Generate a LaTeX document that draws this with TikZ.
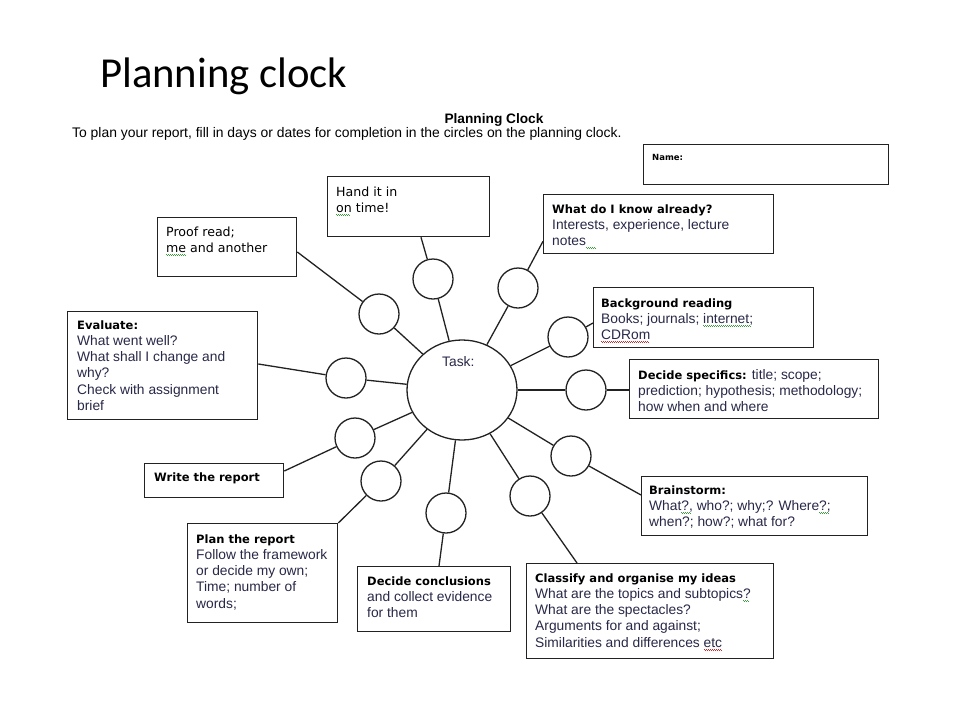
\documentclass[tikz,border=0pt]{standalone}
\usepackage{fontspec}
\setmainfont{Liberation Sans}
\newfontfamily\djv{DejaVu Sans}
\newfontfamily\carl{Carlito}
\usetikzlibrary{shapes.geometric,calc}
\definecolor{ink}{RGB}{34,34,34}
\definecolor{bodyc}{RGB}{40,40,72}
\definecolor{sqg}{RGB}{60,160,60}
\definecolor{sqr}{RGB}{210,40,40}
\newcommand\wv[2]{\setbox0\hbox{#2}\rlap{\hbox to \wd0{\color{#1}\leaders\hbox{\vrule width 1pt height -1.7pt depth 2.5pt\vrule width 1pt height -2.5pt depth 3.3pt}\hfil}}\box0\relax}
\newcommand\bodyf{\fontsize{13.8pt}{16.2pt}\selectfont}
\newcommand\hd[1]{{\djv\bfseries\fontsize{11.5pt}{16.2pt}\selectfont\color{black}#1}}
\newcommand\hr[1]{{\djv\fontsize{12.6pt}{15.5pt}\selectfont\color{black}#1}}
\newcommand\fs{\rule{0pt}{10.5pt}}
\begin{document}
\begin{tikzpicture}[x=1pt,y=-1pt,
  box/.style={draw=ink, line width=1.3pt, rectangle, inner sep=0pt, anchor=north west},
  txt/.style={anchor=north west, inner sep=0pt, align=left, font=\bodyf, text=bodyc},
  circ/.style={draw=ink, circle, minimum size=40pt, inner sep=0pt, line width=1.3pt},
  conn/.style={draw=ink, line width=1.3pt}]
\useasboundingbox[fill=white] (0,0) rectangle (960,720);

% titles
\node[anchor=base west, inner sep=0pt, font=\carl\fontsize{42.7pt}{48pt}\selectfont] (title) at (100,87) {Planning clock};
\node[anchor=base, inner sep=0pt, font=\bfseries\fontsize{13.7pt}{16pt}\selectfont] (hdr) at (494,123) {Planning Clock};
\node[anchor=base west, inner sep=0pt, font=\fontsize{13.9pt}{15pt}\selectfont] (sub) at (72,137.5) {To plan your report, fill in days or dates for completion in the circles on the planning clock.};

% name box
\node[box, minimum width=245pt, minimum height=40pt] (nm) at (643,144) {};
\node[anchor=base west, inner sep=0pt, font=\djv\bfseries\fontsize{8.5pt}{10pt}\selectfont] (nmt) at (652,160) {Name:};

% circles
\node[draw=ink, ellipse, minimum width=110pt, minimum height=100pt, inner sep=0pt, line width=1.3pt] (c0) at (462,390) {};
\node[anchor=base west, inner sep=0pt, text=bodyc, font=\bodyf] (task) at (442,366) {Task:};
\node[circ] (c1) at (433,279) {};
\node[circ] (c2) at (518,288) {};
\node[circ] (c3) at (568,337) {};
\node[circ] (c4) at (586,390) {};
\node[circ] (c5) at (571,456) {};
\node[circ] (c6) at (530,496) {};
\node[circ] (c7) at (446,513) {};
\node[circ] (c8) at (381,481) {};
\node[circ] (c9) at (355,438) {};
\node[circ] (c10) at (346,378) {};
\node[circ] (c11) at (379,314) {};

% boxes
\node[box, minimum width=162pt, minimum height=60pt] (b1) at (327,176) {};
\node[box, minimum width=230pt, minimum height=59pt] (b2) at (543,194) {};
\node[box, minimum width=220pt, minimum height=60pt] (b3) at (593,287) {};
\node[box, minimum width=249pt, minimum height=59pt] (b4) at (629,359) {};
\node[box, minimum width=226pt, minimum height=59pt] (b5) at (641,476) {};
\node[box, minimum width=247pt, minimum height=95pt] (b6) at (526,563) {};
\node[box, minimum width=153pt, minimum height=65pt] (b7) at (357,566) {};
\node[box, minimum width=150pt, minimum height=99pt] (b8) at (187,523) {};
\node[box, minimum width=139pt, minimum height=34pt] (b9) at (144,463) {};
\node[box, minimum width=190pt, minimum height=108pt] (b10) at (67,311) {};
\node[box, minimum width=139pt, minimum height=59pt] (b11) at (157,217) {};

% texts
\node[txt] (t1) at ($(b1.north west)+(9,9.5)$) {\fs\hr{Hand it in}\\\hr{\wv{sqg}{on} time!}};
\node[txt] (t2) at ($(b2.north west)+(9,8.5)$) {\fs\hd{What do I know already?}\\Interests, experience, lecture\\notes\wv{sqg}{\phantom{,..}}};
\node[txt] (t3) at ($(b3.north west)+(8,9.5)$) {\fs\hd{Background reading}\\Books; journals; \wv{sqg}{internet;}\\\wv{sqr}{CDRom}};
\node[txt] (t4) at ($(b4.north west)+(9,9.5)$) {\fs\hd{Decide specifics:} title; scope;\\prediction; hypothesis; methodology;\\how when and where};
\node[txt] (t5) at ($(b5.north west)+(8,7.5)$) {\fs\hd{Brainstorm:}\\What\wv{sqg}{?,} who?; why;? Where\wv{sqg}{?;}\\when?; how?; what for?};
\node[txt] (t6) at ($(b6.north west)+(9,8.5)$) {\fs\hd{Classify and organise my ideas}\\What are the topics and subtopics\wv{sqg}{?}\\What are the spectacles?\\Arguments for and against;\\Similarities and differences \wv{sqr}{etc}};
\node[txt] (t7) at ($(b7.north west)+(10,8.5)$) {\fs\hd{Decide conclusions}\\and collect evidence\\for them};
\node[txt] (t8) at ($(b8.north west)+(9,9.5)$) {\fs\hd{Plan the report}\\Follow the framework\\or decide my own;\\Time; number of\\words;};
\node[txt] (t9) at ($(b9.north west)+(10,7.5)$) {\fs\hd{Write the report}};
\node[txt] (t10) at ($(b10.north west)+(10,7.5)$) {\fs\hd{Evaluate:}\\What went well?\\What shall I change and\\why?\\Check with assignment\\brief};
\node[txt] (t11) at ($(b11.north west)+(9,8.5)$) {\fs\hr{Proof read;}\\\hr{\wv{sqg}{me} and another}};

% spokes
\foreach \i in {1,...,11} {\draw[conn] (c0) -- (c\i);}

% box connectors
\draw[conn] ($(b1.south west)+(94,0)$) -- (c1);
\draw[conn] ($(b2.south west)+(0,-13)$) -- (c2);
\draw[conn] ($(b3.north west)+(0,36)$) -- (c3);
\draw[conn] ($(b4.north west)+(0,31)$) -- (c4);
\draw[conn] ($(b5.north west)+(0,19)$) -- (c5);
\draw[conn] ($(b6.north west)+(51,0)$) -- (c6);
\draw[conn] ($(b7.north west)+(82,0)$) -- (c7);
\draw[conn] (b8.north east) -- (c8);
\draw[conn] ($(b9.north east)+(0,8)$) -- (c9);
\draw[conn] ($(b10.north east)+(0,53)$) -- (c10);
\draw[conn] ($(b11.north east)+(0,35)$) -- (c11);
\end{tikzpicture}
\end{document}
